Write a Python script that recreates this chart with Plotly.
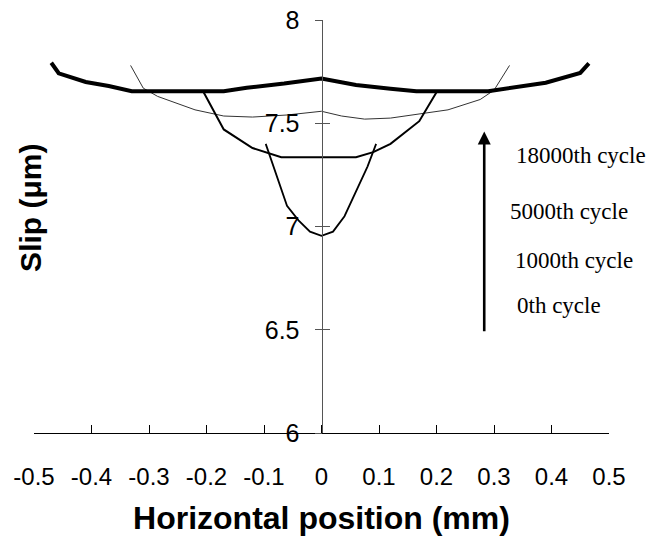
import plotly.graph_objects as go

# Slip profiles across the contact at successive load cycles
x_0th = [-0.097, -0.08, -0.06, -0.04, -0.02, 0.0, 0.02, 0.04, 0.06, 0.08, 0.095]
y_0th = [7.40, 7.26, 7.10, 7.03, 6.975, 6.955, 6.975, 7.05, 7.17, 7.29, 7.40]

x_1000th = [-0.205, -0.17, -0.12, -0.07, 0.06, 0.09, 0.12, 0.17, 0.20]
y_1000th = [7.65, 7.47, 7.38, 7.335, 7.335, 7.36, 7.40, 7.51, 7.65]

x_5000th = [-0.332, -0.31, -0.285, -0.22, -0.17, -0.12, -0.06, 0.0, 0.035,
            0.075, 0.12, 0.175, 0.22, 0.276, 0.30, 0.327]
y_5000th = [7.78, 7.67, 7.63, 7.565, 7.535, 7.53, 7.54, 7.558, 7.535,
            7.52, 7.525, 7.545, 7.565, 7.615, 7.66, 7.78]

x_18000th = [-0.47, -0.457, -0.41, -0.37, -0.33, -0.17, -0.13, -0.065, 0.0,
             0.06, 0.12, 0.165, 0.29, 0.34, 0.39, 0.45, 0.465]
y_18000th = [7.793, 7.742, 7.70, 7.68, 7.655, 7.655, 7.672, 7.692, 7.717,
             7.685, 7.667, 7.655, 7.655, 7.675, 7.696, 7.744, 7.79]

x_ticks = [-0.5, -0.4, -0.3, -0.2, -0.1, 0.0, 0.1, 0.2, 0.3, 0.4, 0.5]
x_tick_labels = ["-0.5", "-0.4", "-0.3", "-0.2", "-0.1", "0", "0.1", "0.2", "0.3", "0.4", "0.5"]
y_ticks = [6.0, 6.5, 7.0, 7.5, 8.0]
y_tick_labels = ["6", "6.5", "7", "7.5", "8"]

cycle_labels = ["18000th cycle", "5000th cycle", "1000th cycle", "0th cycle"]
cycle_label_x = [0.334, 0.325, 0.333, 0.336]
cycle_label_y = [7.343, 7.072, 6.834, 6.617]

arrow_x = 0.283
arrow_from = 6.485
arrow_to = 7.46

SANS = "Liberation Sans, Arial, sans-serif"
SERIF = "Liberation Serif, Times New Roman, serif"

fig = go.Figure()
fig.add_trace(go.Scatter(x=x_5000th, y=y_5000th, mode="lines",
                         line=dict(color="#333333", width=1), hoverinfo="skip"))
fig.add_trace(go.Scatter(x=x_1000th, y=y_1000th, mode="lines",
                         line=dict(color="black", width=2), hoverinfo="skip"))
fig.add_trace(go.Scatter(x=x_18000th, y=y_18000th, mode="lines",
                         line=dict(color="black", width=4), hoverinfo="skip"))
fig.add_trace(go.Scatter(x=x_0th, y=y_0th, mode="lines", yaxis="y2",
                         line=dict(color="black", width=1.8), hoverinfo="skip"))

annotations = [
    dict(x=arrow_x, y=arrow_to, ax=arrow_x, ay=arrow_from, xref="x", yref="y",
         axref="x", ayref="y", text="", showarrow=True, arrowhead=2,
         arrowsize=1, arrowwidth=2.6, arrowcolor="black"),
    dict(text="Slip (\u03bcm)", textangle=-90, xref="paper", yref="paper",
         x=-0.006, y=0.544, xanchor="center", yanchor="middle", showarrow=False,
         font=dict(family=SANS, size=30, color="black", weight="bold")),
]
for lbl, lx, ly in zip(cycle_labels, cycle_label_x, cycle_label_y):
    annotations.append(dict(text=lbl, x=lx, y=ly, xref="x", yref="y",
                            xanchor="left", yanchor="middle", showarrow=False,
                            font=dict(family=SERIF, size=23, color="black")))

fig.update_layout(
    width=652, height=540,
    margin=dict(l=34, r=43, t=20, b=107, autoexpand=False),
    paper_bgcolor="white", plot_bgcolor="white",
    showlegend=False,
    xaxis=dict(range=[-0.5, 0.5], tickvals=x_ticks, ticktext=x_tick_labels,
               ticks="inside", ticklen=8, tickcolor="black", tickwidth=1,
               showline=True, linecolor="black", linewidth=1,
               showgrid=False, zeroline=False, ticklabelstandoff=22,
               automargin=False,
               tickfont=dict(family=SANS, size=24, color="black"),
               title=dict(text="<b>Horizontal position (mm)</b>", standoff=17,
                          font=dict(family=SANS, size=32, color="black"))),
    yaxis=dict(range=[6, 8], tickvals=y_ticks, ticktext=y_tick_labels,
               anchor="free", position=0.5, automargin=False,
               ticks="outside", ticklen=7, tickcolor="#555555", tickwidth=1,
               showline=True, linecolor="#555555", linewidth=1,
               showgrid=False, zeroline=False, ticklabelstandoff=10,
               tickfont=dict(family=SANS, size=25, color="black")),
    yaxis2=dict(range=[6, 8], tickvals=y_ticks, overlaying="y",
                anchor="free", position=0.5, automargin=False,
                ticks="inside", ticklen=7, tickcolor="#555555", tickwidth=1,
                showticklabels=False, showline=False,
                showgrid=False, zeroline=False),
    annotations=annotations,
)

fig.write_html("out.html")
